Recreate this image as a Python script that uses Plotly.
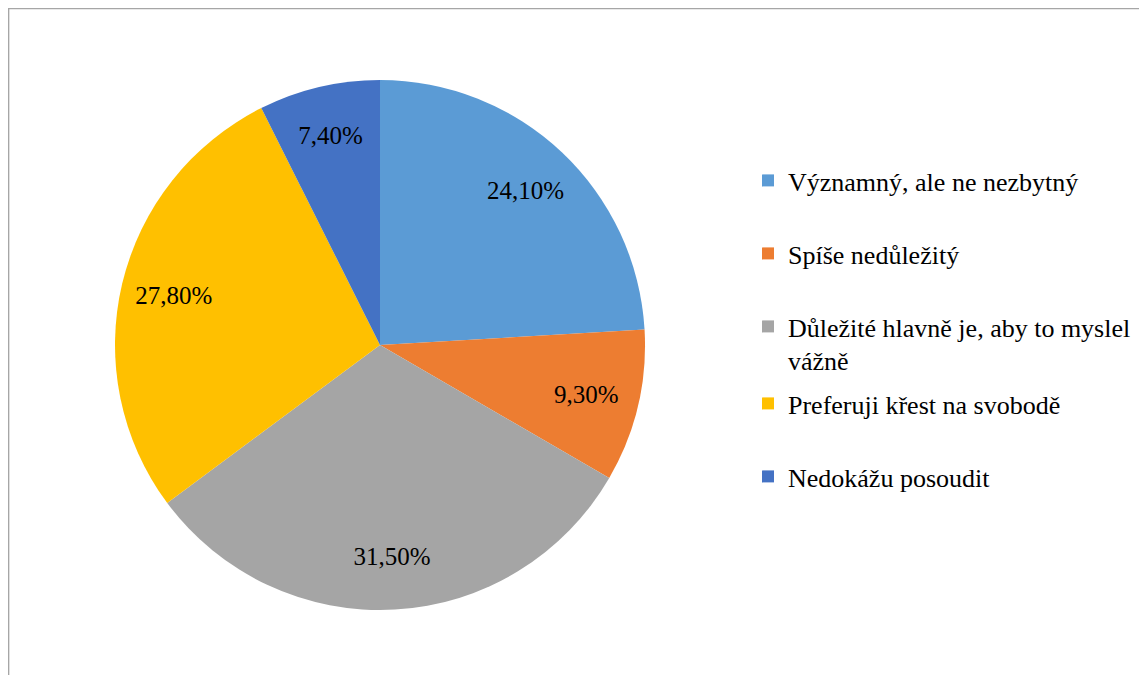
import plotly.graph_objects as go

categories = ["Významný, ale ne nezbytný", "Spíše nedůležitý",
              "Důležité hlavně je, aby to myslel vážně",
              "Preferuji křest na svobodě", "Nedokážu posoudit"]
legend_labels = ["Významný, ale ne nezbytný", "Spíše nedůležitý",
                 "Důležité hlavně je, aby to myslel<br>vážně",
                 "Preferuji křest na svobodě", "Nedokážu posoudit"]
values = [24.1, 9.3, 31.5, 27.8, 7.4]
colors = ["#5B9BD5", "#ED7D31", "#A5A5A5", "#FFC000", "#4472C4"]

W, H = 1147, 675
OFF = 8  # page body margin
FONT = "Times New Roman"

text_labels = [f"{v:.2f}".replace(".", ",") + "%" for v in values]

cx, cy, R = 380 - OFF, 345 - OFF, 265
dom = dict(x=[(cx - R) / W, (cx + R) / W], y=[1 - (cy + R) / H, 1 - (cy - R) / H])

fig = go.Figure()
fig.add_trace(go.Pie(
    labels=categories, values=values,
    textinfo="none",
    sort=False, direction="clockwise", rotation=0,
    marker=dict(colors=colors, line=dict(width=0)),
    showlegend=False, hoverinfo="label+percent",
    domain=dom,
))
# transparent ring carrying the percentage labels near the outer edge
fig.add_trace(go.Pie(
    labels=categories, values=values, text=text_labels, hole=0.6,
    textinfo="text", textposition="inside", insidetextorientation="horizontal",
    sort=False, direction="clockwise", rotation=0,
    marker=dict(colors=["rgba(0,0,0,0)"] * len(values), line=dict(width=0)),
    textfont=dict(family=FONT, size=25, color="black"),
    showlegend=False, hoverinfo="skip",
    domain=dom,
))

legend_y = [172, 245, 318, 395, 468]
layout_legends = {}
for i, (lab, col) in enumerate(zip(legend_labels, colors)):
    name = "legend" if i == 0 else f"legend{i+1}"
    fig.add_trace(go.Scatter(
        x=[None], y=[None], mode="markers", name=lab,
        marker=dict(symbol="square", size=12, color=col),
        legend=name, showlegend=True, hoverinfo="skip",
    ))
    layout_legends[name] = dict(
        x=(788 - OFF - 40) / W, xanchor="left",
        y=1 - (legend_y[i] - OFF - 15) / H, yanchor="top",
        valign="top",
        bgcolor="rgba(0,0,0,0)", borderwidth=0,
        font=dict(family=FONT, size=26, color="black"),
    )

fig.update_layout(
    width=W, height=H,
    margin=dict(l=0, r=0, t=0, b=0),
    paper_bgcolor="white", plot_bgcolor="white",
    uniformtext=dict(mode="show", minsize=25),
    xaxis=dict(visible=False), yaxis=dict(visible=False),
    shapes=[dict(type="rect", xref="paper", yref="paper",
                 x0=0.6 / W, x1=1.05, y0=-0.05, y1=1 - 0.6 / H,
                 line=dict(color="#A6A6A6", width=1.5))],
    **layout_legends,
)

fig.write_html("out.html")
